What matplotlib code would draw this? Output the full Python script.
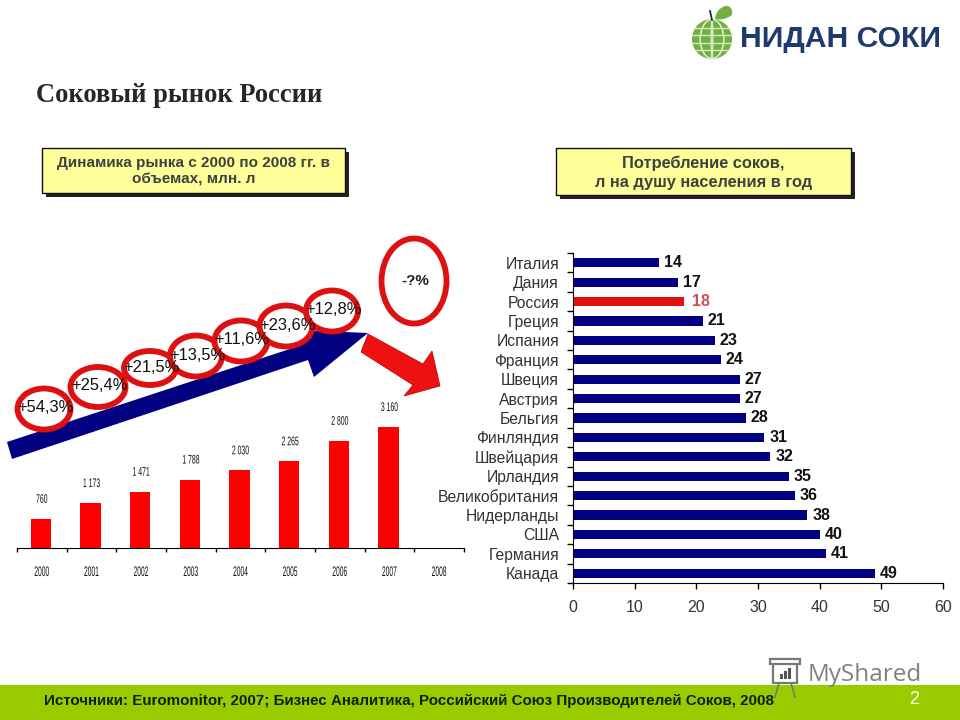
import numpy as np
import matplotlib
matplotlib.use("Agg")
import matplotlib.pyplot as plt
from matplotlib.patches import Polygon, Rectangle, Ellipse, Circle, PathPatch
from matplotlib.path import Path
from matplotlib.patheffects import AbstractPathEffect
from matplotlib.transforms import Affine2D

years = ["2000", "2001", "2002", "2003", "2004", "2005", "2006", "2007", "2008"]
market = [760, 1173, 1471, 1788, 2030, 2265, 2800, 3160, np.nan]
market_labels = ["760", "1 173", "1 471", "1 788", "2 030", "2 265", "2 800", "3 160", ""]
countries = ["Италия", "Дания", "Россия", "Греция", "Испания", "Франция", "Швеция", "Австрия",
             "Бельгия", "Финляндия", "Швейцария", "Ирландия", "Великобритания", "Нидерланды",
             "США", "Германия", "Канада"]
juice = [14, 17, 18, 21, 23, 24, 27, 27, 28, 31, 32, 35, 36, 38, 40, 41, 49]
growth = ["+54,3%", "+25,4%", "+21,5%", "+13,5%", "+11,6%", "+23,6%", "+12,8%"]

W, H = 960, 720
SANS = "Liberation Sans"


class Squeeze(AbstractPathEffect):
    """Draw text horizontally condensed around its own centre."""

    def __init__(self, factor):
        super().__init__()
        self.factor = factor

    def draw_path(self, renderer, gc, tpath, affine, rgbFace=None):
        ext = tpath.transformed(affine).get_extents()
        cx = (ext.x0 + ext.x1) / 2
        squeeze = Affine2D().translate(-cx, 0).scale(self.factor, 1).translate(cx, 0)
        renderer.draw_path(gc, tpath, affine + squeeze, rgbFace)


fig = plt.figure(figsize=(9.6, 7.2), dpi=100, facecolor="white")


def axes_px(x0, y0, x1, y1, **kw):
    return fig.add_axes([x0 / W, 1 - y1 / H, (x1 - x0) / W, (y1 - y0) / H], **kw)


bg = axes_px(0, 0, W, H, zorder=1)
bg.set_xlim(0, W)
bg.set_ylim(H, 0)
bg.axis("off")

fg = axes_px(0, 0, W, H, zorder=5)
fg.set_xlim(0, W)
fg.set_ylim(H, 0)
fg.axis("off")
fg.patch.set_alpha(0)

# footer
bg.add_patch(Rectangle((0, 685), W, 35, fc="#99CC00", ec="none"))
bg.text(44, 701, "Источники: Euromonitor, 2007; Бизнес Аналитика, Российский Союз Производителей Соков, 2008",
        family=SANS, fontsize=10.9, weight="bold", color="#10200a", va="center", ha="left")
bg.text(914, 700, "2", family=SANS, fontsize=13, color="white", va="center", ha="center")

# watermark
bg.text(808, 675, "MyShared", family="Open Sans", fontsize=17.5, color="#808080", va="center", ha="left", zorder=3)
bg.add_patch(Rectangle((773, 663), 24, 20, fc="white", ec="#777777", lw=1.6, zorder=3))
bg.add_patch(Rectangle((770, 659), 30, 5, fc="white", ec="#777777", lw=1.6, zorder=3))
for x0, h0 in zip((780, 784, 788), (5, 8, 11)):
    bg.add_patch(Rectangle((x0, 679 - h0), 3, h0, fc="#555555", ec="none", zorder=3))
bg.plot([779, 775], [683, 697], color="#777777", lw=1.2, zorder=3)
bg.plot([791, 795], [683, 697], color="#777777", lw=1.2, zorder=3)

# title
bg.text(36, 95, "Соковый рынок России", family="Liberation Serif", fontsize=19.1, weight="bold",
        color="#262626", va="center", ha="left")

# logo
bg.add_patch(Circle((712, 39), 20, fc="#72B043", ec="none"))
for dx in (-11, 0, 11):
    bg.add_patch(Ellipse((712, 39), 2 * abs(dx) + 1.5, 39, fc="none", ec="#d8ecc4", lw=1))
for dy in (-11, -4, 4, 11):
    half = np.sqrt(400 - dy ** 2)
    bg.plot([712 - half, 712 + half], [39 + dy, 39 + dy], color="#d8ecc4", lw=1)
leaf = Path([(715, 19), (716, 9), (725, 6), (733, 5), (732, 15), (724, 21), (715, 19)],
            [Path.MOVETO, Path.CURVE3, Path.CURVE3, Path.CURVE3, Path.CURVE3, Path.CURVE3, Path.CURVE3])
bg.add_patch(PathPatch(leaf, fc="#72B043", ec="none"))
bg.plot([710, 712], [11, 20], color="#2b2b2b", lw=1.3)
bg.text(740, 39, "НИДАН СОКИ", family=SANS, fontsize=21.7, weight="bold", color="#1F3A6E", va="center", ha="left")


def note(x0, y0, x1, y1, lines, fs, spacing):
    bg.add_patch(Rectangle((x0 + 4, y0 + 4), x1 - x0, y1 - y0, fc="#222222", ec="none"))
    bg.add_patch(Rectangle((x0, y0), x1 - x0, y1 - y0, fc="#FFFF99", ec="#111111", lw=1))
    bg.text((x0 + x1) / 2, (y0 + y1) / 2 + 1, lines, family=SANS, fontsize=fs, weight="bold",
            color="#404040", va="center", ha="center", linespacing=spacing)


note(42, 148, 345, 193, "Динамика рынка с 2000 по 2008 гг. в\nобъемах, млн. л", 11, 1.2)
note(556, 148, 851, 195, "Потребление соков,\nл на душу населения в год", 11.8, 1.3)

# left chart
ax = axes_px(17, 400, 464, 548, zorder=3)
ax.patch.set_alpha(0)
xpos = np.arange(len(years))
ax.bar(xpos - 0.02, market, width=0.41, color="#FF0000")
ax.set_xlim(-0.5, 8.5)
ax.set_ylim(0, 3864)
ax.set_yticks([])
for s in ("top", "left", "right"):
    ax.spines[s].set_visible(False)
ax.set_xticks(np.append(xpos - 0.5, 8.5))
ax.set_xticklabels([""] * 10)
ax.tick_params(axis="x", direction="out", length=3, width=1)
for x, v, lab in zip(xpos, market, market_labels):
    if lab:
        ax.annotate(lab, (x, v), xytext=(0, 13), textcoords="offset pixels", ha="center", va="bottom",
                    family=SANS, fontsize=9, color="#111111", path_effects=[Squeeze(0.55)])
for x, y in zip(xpos, years):
    ax.annotate(y, (x, 0), xytext=(0, -24), textcoords="offset pixels", ha="center", va="center",
                family=SANS, fontsize=10, color="#111111", path_effects=[Squeeze(0.48)])

# right chart
ar = axes_px(573, 253, 943, 583, zorder=3)
ar.patch.set_alpha(0)
ypos = np.arange(len(countries))
colors = ["#E01010" if c == "Россия" else "#000080" for c in countries]
ar.barh(ypos, juice, height=0.47, color=colors)
ar.set_xlim(0, 60)
ar.set_ylim(16.5, -0.5)
for s in ("top", "right"):
    ar.spines[s].set_visible(False)
ar.set_yticks(ypos)
ar.set_yticklabels(countries, family=SANS, fontsize=11.3, color="#333333")
ar.set_yticks(np.append(ypos - 0.5, 16.5), minor=True)
ar.tick_params(axis="y", which="major", length=0, pad=10)
ar.tick_params(axis="y", which="minor", length=4, width=1, direction="out")
ar.set_xticks(np.arange(0, 61, 10))
ar.tick_params(axis="x", length=4, width=1, pad=8)
for t in ar.get_xticklabels():
    t.set_family(SANS)
    t.set_fontsize(11.5)
    t.set_color("#333333")
for y, v, c in zip(ypos, juice, countries):
    russia = c == "Россия"
    ar.annotate(str(v), (v, y), xytext=(8 if russia else 5, 0), textcoords="offset pixels", ha="left", va="center",
                family=SANS, fontsize=11.5, weight="bold", color="#C8505A" if russia else "#111111")

# arrows
fg.add_patch(Polygon([(7, 442), (12, 459), (308, 360), (314, 377), (368, 333), (298, 330), (302, 345)],
                     fc="#000080", ec="none", zorder=2))
fg.add_patch(Polygon([(368, 334), (361, 352), (413, 385), (404, 396), (440, 386), (432, 351), (423, 364)],
                     fc="#EE1111", ec="#b00000", lw=0.5, zorder=2))

# growth ellipses
centers = [(44, 409), (98, 387), (150, 368), (196, 356), (241, 341), (286, 326), (332, 311)]
sizes = [(53, 41), (55, 40), (52, 34), (52, 41), (53, 41), (53, 41), (52, 41)]
for (cx, cy), (w, h) in zip(centers, sizes):
    fg.add_patch(Ellipse((cx, cy), w, h, fc="white", ec="#DD1111", lw=4.2, zorder=3))
for (cx, cy), lab in zip(centers, growth):
    fg.text(cx + 1, cy - 1, lab, family=SANS, fontsize=11.9, color="#111111", va="center", ha="center", zorder=4)
fg.add_patch(Ellipse((414, 281), 65, 85, fc="white", ec="#DD1111", lw=4.2, zorder=3))
fg.text(415, 281, "-?%", family=SANS, fontsize=11, weight="bold", color="#222222", va="center", ha="center", zorder=4)

fig.savefig("out.png", dpi=100)
